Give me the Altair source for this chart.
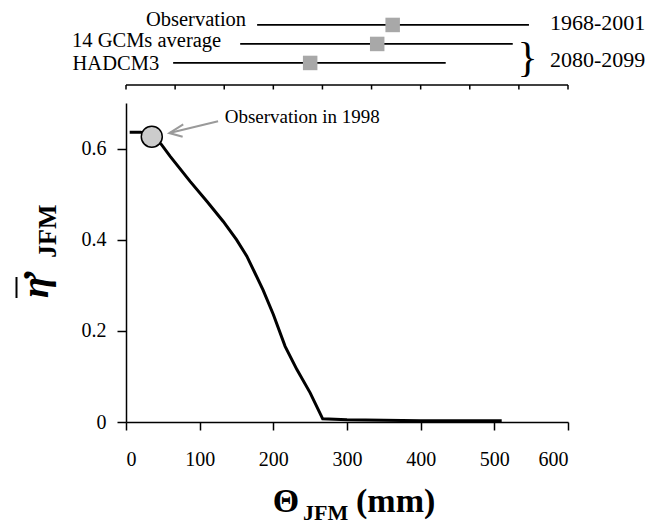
import altair as alt
import pandas as pd

FONT = "Liberation Serif"

# ---- main curve: eta'_JFM vs Theta_JFM (mm)
theta_mm = [5, 20, 35, 48, 60, 87, 110, 132, 150, 164, 186, 200, 216, 232, 250, 267, 300, 350, 400, 450, 510]
eta_mean = [0.636, 0.636, 0.628, 0.609, 0.583, 0.528, 0.484, 0.440, 0.400, 0.364, 0.290, 0.236,
            0.166, 0.115, 0.064, 0.007, 0.005, 0.004, 0.003, 0.003, 0.003]

# observation in 1998
obs_x = [35]
obs_y = [0.626]

# annotation arrow (data units)
arrow_shaft_x = [125, 59]
arrow_shaft_y = [0.660, 0.634]
arrow_head_x = [77.7, 58.8, 76.9]
arrow_head_y = [0.653, 0.634, 0.626]
note_x = [134]
note_y = [0.670]
note_text = ["Observation in 1998"]

# ---- top panel: ranges
series = ["Observation", "14 GCMs average", "HADCM3"]
row = [3, 2, 1]
range_lo = [178, 155, 64]
range_hi = [547, 525, 434]
range_mid = [362, 341, 250]
top_ticks = [0, 66.67, 133.33, 200, 266.67, 333.33, 400, 466.67, 533.33, 600]
periods = ["1968-2001", "2080-2099"]

x_ticks = [0, 100, 200, 300, 400, 500, 600]
y_ticks = [0, 0.2, 0.4, 0.6]

W = 442
TOP_H = 90
AX_Y = 80
xs = alt.Scale(domain=[0, 600], nice=False, zero=False)

def X(field, axis=None):
    if axis is None:
        return alt.X(field, scale=xs)
    return alt.X(field, scale=xs, axis=axis)

# ---------------- top chart (its axis is drawn with marks)
top_df = pd.DataFrame({"series": series, "row": row, "lo": range_lo, "hi": range_hi, "mid": range_mid})
ys_top = alt.Scale(domain=[-0.687, 4.05], nice=False, zero=False)
def XT(field):
    return alt.X(field, scale=xs, axis=None)
def YT(field):
    return alt.Y(field, scale=ys_top, axis=None)
tb = alt.Chart(top_df)

rules = tb.mark_rule(color="black", strokeWidth=1.8).encode(x=XT("lo:Q"), x2="hi:Q", y=YT("row:Q"))
squares = tb.mark_square(size=210, color="#a8a8a8", opacity=1).encode(x=XT("mid:Q"), y=YT("row:Q"))
offsets = {"Observation": (-11, 1), "14 GCMs average": (-19, 3), "HADCM3": (-14, 7)}
label_layers = []
for s in series:
    dx, dy = offsets[s]
    label_layers.append(
        tb.transform_filter(alt.datum.series == s).mark_text(
            align="right", baseline="alphabetic", dx=dx, dy=dy, font=FONT, fontSize=20.5, color="black"
        ).encode(x=XT("lo:Q"), y=YT("row:Q"), text="series:N")
    )

tick_df = pd.DataFrame({"t": top_ticks})
# axis line and ticks as filled shapes
top_domain = alt.Chart(pd.DataFrame({"d": [0]})).mark_rect(color="black", opacity=1).encode(
    x=alt.value(0), x2=alt.value(W), y=alt.value(AX_Y - 0.75), y2=alt.value(AX_Y + 0.75)
)
top_tick_marks = alt.Chart(tick_df).mark_tick(color="black", orient="vertical", size=4.5,
                                              thickness=1.5, opacity=1).encode(
    x=XT("t:Q"), y=alt.value(AX_Y + 2.25)
)

per_df = pd.DataFrame({"period": periods})
p1 = alt.Chart(per_df).transform_filter(alt.datum.period == periods[0]).mark_text(
    align="left", baseline="alphabetic", font=FONT, fontSize=22, color="black"
).encode(x=alt.value(424), y=alt.value(25), text="period:N")
p2 = alt.Chart(per_df).transform_filter(alt.datum.period == periods[1]).mark_text(
    align="left", baseline="alphabetic", font=FONT, fontSize=22, color="black"
).encode(x=alt.value(424), y=alt.value(61.7), text="period:N")
brace = alt.Chart(per_df).transform_filter(alt.datum.period == periods[1]).mark_text(
    align="center", baseline="middle", font=FONT, fontSize=42, color="black", text="}"
).encode(x=alt.value(401.5), y=alt.value(53.4))

top = alt.layer(rules, squares, *label_layers, top_domain, top_tick_marks, p1, p2, brace).properties(
    width=W, height=TOP_H)

# ---------------- main chart
main_df = pd.DataFrame({"theta": theta_mm, "eta": eta_mean})
ys = alt.Scale(domain=[0, 0.7], nice=False, zero=False)
def YM(field, axis=None):
    if axis is None:
        return alt.Y(field, scale=ys)
    return alt.Y(field, scale=ys, axis=axis)

x_axis = alt.Axis(values=x_ticks, title=None, grid=False, tickSize=8, labelPadding=19,
                  domainColor="black", tickColor="black", domainWidth=1.5, tickWidth=1.5,
                  labelFont=FONT, labelFontSize=20, labelColor="black")
y_axis = alt.Axis(values=y_ticks, title=None, grid=False, tickSize=9, labelPadding=11,
                  domainColor="black", tickColor="black", domainWidth=1.5, tickWidth=1.5,
                  labelFont=FONT, labelFontSize=20, labelColor="black",
                  labelExpr="datum.value == 0 ? '0' : format(datum.value, '.1f')")

curve = alt.Chart(main_df).mark_line(color="black", strokeWidth=3).encode(
    x=X("theta:Q", x_axis), y=YM("eta:Q", y_axis),
)

obs_df = pd.DataFrame({"x": obs_x, "y": obs_y})
circle = alt.Chart(obs_df).mark_point(shape="circle", filled=True, fill="#cccccc", stroke="black",
                                      strokeWidth=1.5, size=441, opacity=1).encode(
    x=X("x:Q"), y=YM("y:Q")
)

shaft_df = pd.DataFrame({"x": arrow_shaft_x, "y": arrow_shaft_y, "o": [0, 1]})
shaft = alt.Chart(shaft_df).mark_line(color="#9a9a9a", strokeWidth=2).encode(
    x=X("x:Q"), y=YM("y:Q"), order="o:Q"
)
head_df = pd.DataFrame({"x": arrow_head_x, "y": arrow_head_y, "o": [0, 1, 2]})
head = alt.Chart(head_df).mark_line(color="#9a9a9a", strokeWidth=2).encode(
    x=X("x:Q"), y=YM("y:Q"), order="o:Q"
)
note_df = pd.DataFrame({"x": note_x, "y": note_y, "t": note_text})
note = alt.Chart(note_df).mark_text(align="left", baseline="middle", font=FONT, fontSize=19,
                                    color="black").encode(
    x=X("x:Q"), y=YM("y:Q"), text="t:N"
)

# axis titles (rich text)
tdf = pd.DataFrame({"t": ["Θ", "JFM", "(mm)", "η", "’", "JFM"]})
def title_text(idx, **kw):
    return alt.Chart(tdf).transform_window(i="row_number()").transform_filter(alt.datum.i == idx).mark_text(
        font=FONT, color="black", fontWeight="bold", **kw).encode(text="t:N")

xt1 = title_text(1, align="left", baseline="alphabetic", fontSize=34).encode(x=alt.value(146.7), y=alt.value(409))
xt2 = title_text(2, align="left", baseline="alphabetic", fontSize=22).encode(x=alt.value(177), y=alt.value(417))
xt3 = title_text(3, align="left", baseline="alphabetic", fontSize=34).encode(x=alt.value(230), y=alt.value(409))
yt1 = title_text(4, align="left", baseline="alphabetic", fontSize=38, fontStyle="italic", angle=270).encode(
    x=alt.value(-78), y=alt.value(195))
yt2 = title_text(5, align="left", baseline="alphabetic", fontSize=40, angle=270).encode(
    x=alt.value(-76), y=alt.value(179))
yt3 = title_text(6, align="left", baseline="alphabetic", fontSize=26, angle=270).encode(
    x=alt.value(-70), y=alt.value(155))
overline = alt.Chart(tdf).transform_window(i="row_number()").transform_filter(alt.datum.i == 4).mark_rule(
    color="black", strokeWidth=2).encode(x=alt.value(-109.5), y=alt.value(174), y2=alt.value(195))

main = alt.layer(curve, shaft, head, circle, note, xt1, xt2, xt3, yt1, yt2, yt3, overline).properties(
    width=W, height=319)

chart = alt.vconcat(top, main, spacing=8).properties(
    padding={"left": 15, "top": 5, "right": 5, "bottom": 5},
    background="white",
).configure_view(stroke=None)

chart.save("out.html", embed_options={"renderer": "svg", "actions": False})
